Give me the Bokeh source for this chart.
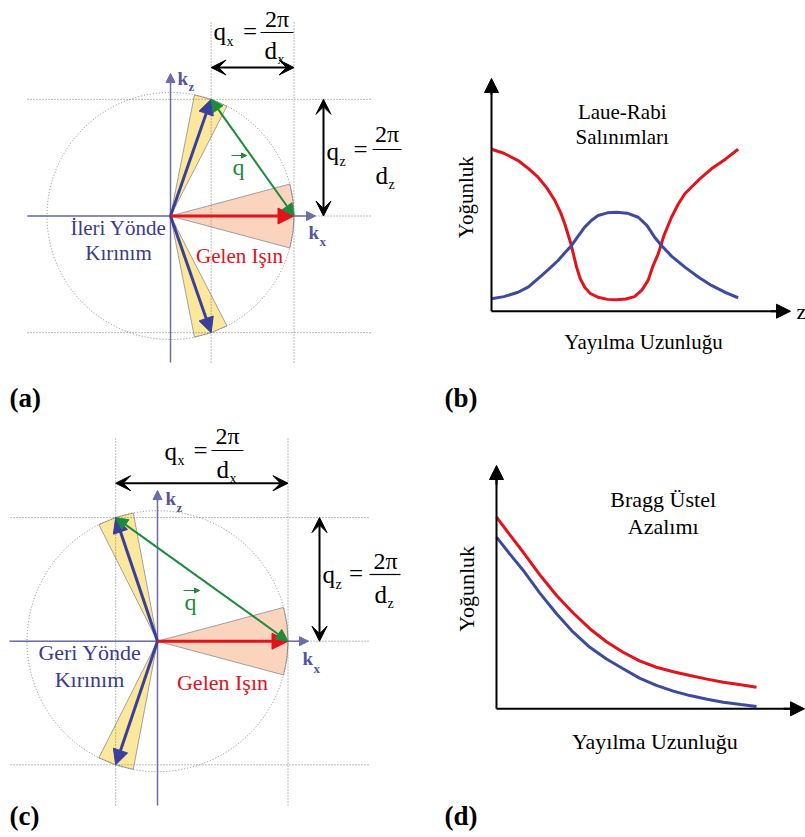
import math
from bokeh.plotting import figure
from bokeh.layouts import gridplot
from bokeh.models import Range1d, Arrow, NormalHead, VeeHead, Label
from bokeh.embed import file_html
from bokeh.resources import INLINE

# ---------------- data ----------------
# diffraction geometry (angles of the diffracted wave vector, degrees from +kx)
laue_scatter_angle = 70.8      # (a) forward (Laue) diffraction
bragg_scatter_angle = 108.7    # (c) backward (Bragg) diffraction
scatter_halfwidth = 8.0        # yellow diffracted-beam cone half width
incident_halfwidth = 15.0      # peach incident-beam cone half width

# (b) Laue-Rabi oscillations: propagation length (0..1) vs intensity
laue_red_z = [0.00, 0.05, 0.108, 0.15, 0.189, 0.225, 0.257, 0.28, 0.297, 0.322, 0.345,
              0.36, 0.378, 0.40, 0.432, 0.47, 0.507, 0.545, 0.58, 0.61, 0.635, 0.655,
              0.676, 0.70, 0.73, 0.757, 0.784, 0.84, 0.892, 0.95, 1.00]
laue_red_i = [1.00, 0.975, 0.93, 0.88, 0.827, 0.76, 0.683, 0.61, 0.54, 0.416, 0.272,
              0.20, 0.148, 0.11, 0.086, 0.073, 0.070, 0.075, 0.09, 0.13, 0.19, 0.28,
              0.354, 0.47, 0.58, 0.66, 0.725, 0.81, 0.879, 0.94, 1.00]
laue_blue_z = [0.00, 0.05, 0.108, 0.15, 0.203, 0.24, 0.270, 0.30, 0.322, 0.35, 0.378,
               0.405, 0.432, 0.47, 0.507, 0.55, 0.595, 0.63, 0.66, 0.689, 0.73, 0.784,
               0.84, 0.892, 0.95, 1.00]
laue_blue_i = [0.077, 0.09, 0.117, 0.15, 0.22, 0.27, 0.313, 0.365, 0.40, 0.46, 0.519,
               0.56, 0.591, 0.607, 0.611, 0.605, 0.58, 0.53, 0.46, 0.406, 0.34, 0.272,
               0.21, 0.159, 0.115, 0.083]

# (d) Bragg exponential decay
bragg_z = [0.0, 0.05, 0.103, 0.166, 0.231, 0.295, 0.359, 0.423, 0.487, 0.55, 0.615,
           0.68, 0.744, 0.81, 0.872, 0.94, 1.0]
bragg_red_i = [1.0, 0.91, 0.817, 0.70, 0.591, 0.50, 0.418, 0.35, 0.295, 0.25, 0.217,
               0.193, 0.174, 0.155, 0.139, 0.125, 0.113]
bragg_blue_i = [0.896, 0.81, 0.722, 0.605, 0.496, 0.40, 0.321, 0.26, 0.209, 0.16, 0.122,
                0.092, 0.069, 0.05, 0.034, 0.022, 0.012]

# ---------------- style ----------------
SERIF = "Liberation Serif"
AXIS = "#6d6da8"
KLAB = "#55559a"
BLUE_ARROW = "#3a3f9c"
GREEN = "#1d8b3c"
RED = "#e3121b"
YELLOW = "#fbe89c"
PEACH = "#fbd4be"
EDGE = "#8c8c8c"
GUIDE = "#6f6f6f"
TEXT_BLUE = "#3b3b8e"
CURVE_RED = "#e3121b"
CURVE_BLUE = "#3d4b9e"
BASE_SHIFT = 0.27   # em correction for label baseline placement


def make_panel(offx, offy, w, h, ox, oy, sx, sy):
    p = figure(width=w, height=h,
               x_range=Range1d((offx - ox) / sx, (offx + w - ox) / sx),
               y_range=Range1d((oy - (offy + h)) / sy, (oy - offy) / sy),
               output_backend="svg", toolbar_location=None,
               x_axis_location=None, y_axis_location=None, min_border=0)
    p.outline_line_color = None
    p.background_fill_color = "white"
    p.border_fill_color = "white"
    p.xgrid.grid_line_color = None
    p.ygrid.grid_line_color = None
    p.grid.visible = False
    fx = lambda gx: (gx - ox) / sx
    fy = lambda gy: (oy - gy) / sy
    return p, fx, fy


def lab(p, fx, fy, gx, gy, text, size, color="black", align="left",
        bold=False, angle=0.0):
    if angle == 0.0:
        gy = gy - BASE_SHIFT * size
    else:
        gx = gx - BASE_SHIFT * size
    p.add_layout(Label(x=fx(gx), y=fy(gy), text=text, text_font=SERIF,
                       text_font_size=f"{size}px", text_color=color,
                       text_align=align, text_baseline="alphabetic",
                       text_font_style="bold" if bold else "normal",
                       angle=angle))


def arrow(p, x0, y0, x1, y1, color, width, head_size, double=False, vee=False):
    Head = VeeHead if vee else NormalHead
    end = Head(size=head_size, fill_color=color, line_color=color, line_width=1)
    start = Head(size=head_size, fill_color=color, line_color=color, line_width=1) if double else None
    p.add_layout(Arrow(x_start=x0, y_start=y0, x_end=x1, y_end=y1, end=end, start=start,
                       line_color=color, line_width=width))


def diffraction_panel(p, fx, fy, theta_deg, L, texts, frac_lines, qvec_arrow):
    th = math.radians(theta_deg)
    cx, cz = math.cos(th), math.sin(th)
    hw = math.radians(scatter_halfwidth)
    iw = math.radians(incident_halfwidth)
    # beam cones
    p.wedge(x=[0, 0], y=[0, 0], radius=1,
            start_angle=[th - hw, -th - hw], end_angle=[th + hw, -th + hw],
            fill_color=YELLOW, line_color=EDGE, line_width=0.8)
    p.wedge(x=[0], y=[0], radius=1, start_angle=-iw, end_angle=iw,
            fill_color=PEACH, line_color=EDGE, line_width=0.8)
    # Ewald circle
    p.circle(x=[0], y=[0], radius=1, fill_color=None, line_color="#7a7a7a",
             line_width=0.9, line_dash="1 2")
    # dotted guides
    top, bot = fy(L["guide_top"]), fy(L["guide_bottom"])
    left, right = fx(L["guide_left"]), fx(L["guide_right"])
    p.multi_line(xs=[[cx, cx], [1, 1]], ys=[[top, bot], [top, bot]],
                 line_color=GUIDE, line_width=0.9, line_dash="1 2")
    p.multi_line(xs=[[left, right]] * 3, ys=[[cz, cz], [0, 0], [-cz, -cz]],
                 line_color=GUIDE, line_width=0.9, line_dash="1 2")
    # k axes
    p.line(x=[0, 0], y=[fy(L["guide_bottom"]), fy(L["kz_tip"]) - 0.03],
           line_color=AXIS, line_width=1.5)
    arrow(p, 0, fy(L["kz_tip"]) - 0.08, 0, fy(L["kz_tip"]), AXIS, 1.5, 9)
    p.line(x=[fx(L["kx_left"]), fx(L["kx_tip"]) - 0.03], y=[0, 0],
           line_color=AXIS, line_width=1.5)
    arrow(p, fx(L["kx_tip"]) - 0.08, 0, fx(L["kx_tip"]), 0, AXIS, 1.5, 9)
    # wave vectors
    arrow(p, 0, 0, cx, cz, BLUE_ARROW, 3, 15)
    arrow(p, 0, 0, cx, -cz, BLUE_ARROW, 3, 15)
    arrow(p, 0, 0, 1, 0, RED, 3, 16)
    arrow(p, cx, cz, 1, 0, GREEN, 2, 12, double=True)
    # q_x and q_z spans
    arrow(p, cx, fy(L["qx_y"]), 1, fy(L["qx_y"]), "black", 2, 15, double=True, vee=True)
    arrow(p, fx(L["qz_x"]), 0, fx(L["qz_x"]), cz, "black", 2, 15, double=True, vee=True)
    # fraction bars
    for (gx0, gx1, gy) in frac_lines:
        p.line(x=[fx(gx0), fx(gx1)], y=[fy(gy), fy(gy)], line_color="black", line_width=1.2)
    # little vector arrow over q
    gx0, gx1, gy = qvec_arrow
    p.add_layout(Arrow(x_start=fx(gx0), y_start=fy(gy), x_end=fx(gx1), y_end=fy(gy),
                       end=NormalHead(size=5, fill_color=GREEN, line_color=GREEN),
                       line_color=GREEN, line_width=1))
    for t in texts:
        gx, gy, s, size, color, align, bold = t
        lab(p, fx, fy, gx, gy, s, size, color, align, bold)


def curve_panel(p, fx, fy, curves, L, texts):
    for zs, vals, color in curves:
        p.line(x=zs, y=vals, line_color=color, line_width=3)
    # axes with arrows
    y_tip = fy(L["y_tip"])
    x_tip = fx(L["x_tip"])
    p.line(x=[0, 0], y=[0, y_tip - 0.05], line_color="black", line_width=2)
    arrow(p, 0, y_tip - 0.1, 0, y_tip, "black", 2, 14)
    p.line(x=[0, x_tip - 0.04], y=[0, 0], line_color="black", line_width=2)
    arrow(p, x_tip - 0.08, 0, x_tip, 0, "black", 2, 14)
    for t in texts:
        gx, gy, s, size, align, angle, bold = t
        lab(p, fx, fy, gx, gy, s, size, "black", align, bold, angle)


SPLIT_X, SPLIT_Y = 430, 420
W, H = 805, 837

# ---------- (a) ----------
pa, fxa, fya = make_panel(0, 0, SPLIT_X, SPLIT_Y, 170, 215.5, 123.5, 123.5)
LA = dict(guide_top=22, guide_bottom=362, guide_left=27, guide_right=370,
          kz_tip=73, kx_left=27, kx_tip=315, qx_y=67, qz_x=323)
TA = [
    (213, 38, "q", 25, "black", "left", False), (226, 45, "x", 14, "black", "left", False),
    (249.5, 38, "=", 25, "black", "center", False),
    (276.5, 25, "2π", 24, "black", "center", False),
    (264, 57, "d", 25, "black", "left", False), (277, 63, "x", 14, "black", "left", False),
    (326, 158, "q", 25, "black", "left", False), (339, 165, "z", 14, "black", "left", False),
    (360, 156, "=", 25, "black", "center", False),
    (386.5, 140, "2π", 24, "black", "center", False),
    (375, 182, "d", 25, "black", "left", False), (388, 188, "z", 14, "black", "left", False),
    (177, 83, "k", 19, KLAB, "left", True), (188, 90, "z", 13, KLAB, "left", True),
    (308, 237, "k", 19, KLAB, "left", True), (319, 245, "x", 13, KLAB, "left", True),
    (232, 173, "q", 24, GREEN, "left", False),
    (118, 233, "İleri Yönde", 21, TEXT_BLUE, "center", False),
    (118, 258, "Kırınım", 21, TEXT_BLUE, "center", False),
    (239, 261, "Gelen Işın", 21, RED, "center", False),
    (9, 405, "(a)", 27, "black", "left", True),
]
diffraction_panel(pa, fxa, fya, laue_scatter_angle, LA, TA,
                  [(260, 293, 32), (372, 401, 149)], (231, 246, 155))

# ---------- (c) ----------
pc, fxc, fyc = make_panel(0, SPLIT_Y, SPLIT_X, H - SPLIT_Y, 157, 640.7, 130.5, 130.5)
LC = dict(guide_top=438, guide_bottom=805, guide_left=10, guide_right=368,
          kz_tip=490, kx_left=9, kx_tip=308, qx_y=482.7, qz_x=319)
TC = [
    (164, 458, "q", 25, "black", "left", False), (177, 464, "x", 14, "black", "left", False),
    (200, 457, "=", 25, "black", "center", False),
    (227, 442, "2π", 24, "black", "center", False),
    (216, 476, "d", 25, "black", "left", False), (229, 482, "x", 14, "black", "left", False),
    (322, 581, "q", 25, "black", "left", False), (335, 588, "z", 14, "black", "left", False),
    (355.5, 580, "=", 25, "black", "center", False),
    (385, 567, "2π", 24, "black", "center", False),
    (374, 601, "d", 25, "black", "left", False), (387, 607, "z", 14, "black", "left", False),
    (165, 503, "k", 19, KLAB, "left", True), (176, 511, "z", 13, KLAB, "left", True),
    (302, 663, "k", 19, KLAB, "left", True), (313, 672, "x", 13, KLAB, "left", True),
    (184, 608, "q", 24, GREEN, "left", False),
    (89.5, 658, "Geri Yönde", 22, TEXT_BLUE, "center", False),
    (89, 685, "Kırınım", 22, TEXT_BLUE, "center", False),
    (222, 688, "Gelen Işın", 22, RED, "center", False),
    (9, 823, "(c)", 27, "black", "left", True),
]
diffraction_panel(pc, fxc, fyc, bragg_scatter_angle, LC, TC,
                  [(211, 243, 450), (369, 400, 574)], (183, 199, 590))

# ---------- (b) ----------
pb, fxb, fyb = make_panel(SPLIT_X, 0, W - SPLIT_X, SPLIT_Y, 491, 310.7, 246.6, 162.0)
TB = [
    (621.7, 117.3, "Laue-Rabi", 21, "center", 0.0, False),
    (621.7, 141.7, "Salınımları", 21, "center", 0.0, False),
    (470.7, 196.7, "Yoğunluk", 21, "center", math.pi / 2, False),
    (643, 346.7, "Yayılma Uzunluğu", 21, "center", 0.0, False),
    (796, 317, "z", 22, "left", 0.0, False),
    (444, 405, "(b)", 27, "left", 0.0, True),
]
curve_panel(pb, fxb, fyb,
            [(laue_red_z, laue_red_i, CURVE_RED), (laue_blue_z, laue_blue_i, CURVE_BLUE)],
            dict(y_tip=78, x_tip=790), TB)

# ---------- (d) ----------
pd_, fxd, fyd = make_panel(SPLIT_X, SPLIT_Y, W - SPLIT_X, H - SPLIT_Y, 496, 708.3, 260.0, 191.6)
TD = [
    (662.7, 505, "Bragg Üstel", 22, "center", 0.0, False),
    (662.7, 531.7, "Azalımı", 22, "center", 0.0, False),
    (472.3, 588.3, "Yoğunluk", 22, "center", math.pi / 2, False),
    (654.3, 746.7, "Yayılma Uzunluğu", 22, "center", 0.0, False),
    (444, 823, "(d)", 27, "left", 0.0, True),
]
curve_panel(pd_, fxd, fyd,
            [(bragg_z, bragg_red_i, CURVE_RED), (bragg_z, bragg_blue_i, CURVE_BLUE)],
            dict(y_tip=465, x_tip=804), TD)

grid = gridplot([[pa, pb], [pc, pd_]], toolbar_location=None)
open("out.html", "w").write(file_html(grid, INLINE))
